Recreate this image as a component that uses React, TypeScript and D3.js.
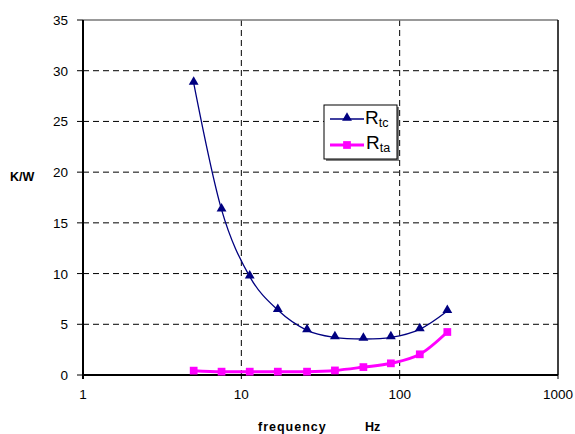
import React, { useEffect, useRef } from 'react';
import * as d3 from 'd3';

const freq = [5, 7.5, 11.3, 17, 26, 39, 59, 88, 134, 200];
const rtc = [28.8, 16.3, 9.7, 6.4, 4.4, 3.7, 3.55, 3.7, 4.5, 6.3];
const rta = [0.43, 0.33, 0.33, 0.33, 0.33, 0.45, 0.78, 1.15, 2.04, 4.24];
const xTicks = [1, 10, 100, 1000];
const yTicks = [0, 5, 10, 15, 20, 25, 30, 35];

const App: React.FC = () => {
  const svgRef = useRef<SVGSVGElement>(null);

  useEffect(() => {
    if (!svgRef.current) return;
    const width = 575;
    const height = 434;
    const left = 83, right = 558, top = 20, bottom = 375;
    const font = 'Arial, "Liberation Sans", sans-serif';

    const svg = d3.select(svgRef.current).attr('width', width).attr('height', height);
    svg.selectAll('*').remove();

    const x = d3.scaleLog().domain([1, 1000]).range([left, right]);
    const y = d3.scaleLinear().domain([0, 35]).range([bottom, top]);

    // grid
    svg.append('g').selectAll('line')
      .data(yTicks.filter(t => t > 0 && t < 35))
      .enter().append('line')
      .attr('x1', left).attr('x2', right)
      .attr('y1', d => y(d)).attr('y2', d => y(d))
      .attr('stroke', '#000').attr('stroke-width', 1)
      .attr('stroke-dasharray', '6,4');
    svg.append('g').selectAll('line')
      .data([10, 100])
      .enter().append('line')
      .attr('x1', d => x(d)).attr('x2', d => x(d))
      .attr('y1', top).attr('y2', bottom)
      .attr('stroke', '#000').attr('stroke-width', 1)
      .attr('stroke-dasharray', '6,4');

    // border
    svg.append('line').attr('x1', left).attr('x2', right).attr('y1', top).attr('y2', top)
      .attr('stroke', '#777').attr('stroke-width', 1.5);
    svg.append('line').attr('x1', right).attr('x2', right).attr('y1', top).attr('y2', bottom)
      .attr('stroke', '#000').attr('stroke-width', 1.5);

    // y axis
    const yAxis = svg.append('g');
    yAxis.append('line').attr('x1', left).attr('x2', left).attr('y1', top).attr('y2', bottom + 4)
      .attr('stroke', '#000').attr('stroke-width', 2);
    yAxis.selectAll('line.tick').data(yTicks).enter().append('line')
      .attr('class', 'tick')
      .attr('x1', left - 6).attr('x2', left)
      .attr('y1', d => y(d)).attr('y2', d => y(d))
      .attr('stroke', '#000').attr('stroke-width', 1);
    yAxis.selectAll('text').data(yTicks).enter().append('text')
      .attr('x', left - 15).attr('y', d => y(d) + 5)
      .attr('text-anchor', 'end')
      .attr('font-family', font).attr('font-size', 13.5)
      .text(d => d);

    // x axis
    const xAxis = svg.append('g');
    xAxis.append('line').attr('x1', left).attr('x2', right).attr('y1', bottom).attr('y2', bottom)
      .attr('stroke', '#000').attr('stroke-width', 2);
    xAxis.selectAll('line.tick').data(xTicks).enter().append('line')
      .attr('class', 'tick')
      .attr('x1', d => x(d)).attr('x2', d => x(d))
      .attr('y1', bottom).attr('y2', bottom + 4)
      .attr('stroke', '#000').attr('stroke-width', 1);
    xAxis.selectAll('text').data(xTicks).enter().append('text')
      .attr('x', d => x(d)).attr('y', bottom + 24)
      .attr('text-anchor', 'middle')
      .attr('font-family', font).attr('font-size', 13.5)
      .text(d => d);

    // axis titles
    svg.append('text').attr('x', 10).attr('y', 181)
      .attr('font-family', font).attr('font-size', 12.5).attr('font-weight', 'bold')
      .text('K/W');
    svg.append('text').attr('x', 258).attr('y', 431)
      .attr('font-family', font).attr('font-size', 12.5).attr('font-weight', 'bold')
      .attr('letter-spacing', 1)
      .text('frequency');
    svg.append('text').attr('x', 365).attr('y', 431)
      .attr('font-family', font).attr('font-size', 12.5).attr('font-weight', 'bold')
      .text('Hz');

    const line = d3.line<[number, number]>()
      .x(d => x(d[0])).y(d => y(d[1]))
      .curve(d3.curveCatmullRom.alpha(0));

    const tri = d3.symbol().type(d3.symbolTriangle).size(42);
    const sq = d3.symbol().type(d3.symbolSquare).size(60);

    // Rta
    const ta: [number, number][] = freq.map((f, i) => [f, rta[i]]);
    svg.append('path').attr('d', line(ta))
      .attr('fill', 'none').attr('stroke', '#ff00ff').attr('stroke-width', 3);
    svg.append('g').selectAll('path').data(ta).enter().append('path')
      .attr('d', sq)
      .attr('transform', d => `translate(${x(d[0])},${y(d[1])})`)
      .attr('fill', '#ff00ff');

    // Rtc
    const tc: [number, number][] = freq.map((f, i) => [f, rtc[i]]);
    svg.append('path').attr('d', line(tc))
      .attr('fill', 'none').attr('stroke', '#000080').attr('stroke-width', 1.3);
    svg.append('g').selectAll('path').data(tc).enter().append('path')
      .attr('d', tri)
      .attr('transform', d => `translate(${x(d[0])},${y(d[1]) - 1})`)
      .attr('fill', '#000080');

    // legend
    const lg = svg.append('g').attr('transform', 'translate(324,105)');
    lg.append('rect').attr('x', 2).attr('y', 2).attr('width', 73).attr('height', 54).attr('fill', '#808080');
    lg.append('rect').attr('x', 0).attr('y', 0).attr('width', 73).attr('height', 54)
      .attr('fill', '#fff').attr('stroke', '#000').attr('stroke-width', 1);
    lg.append('line').attr('x1', 6).attr('x2', 40).attr('y1', 14).attr('y2', 14)
      .attr('stroke', '#000080').attr('stroke-width', 1.3);
    lg.append('path').attr('d', tri).attr('transform', 'translate(23,13)').attr('fill', '#000080');
    lg.append('line').attr('x1', 6).attr('x2', 40).attr('y1', 40).attr('y2', 40)
      .attr('stroke', '#ff00ff').attr('stroke-width', 3);
    lg.append('path').attr('d', sq).attr('transform', 'translate(23,40)').attr('fill', '#ff00ff');

    const t1 = lg.append('text').attr('x', 41).attr('y', 19)
      .attr('font-family', font).attr('font-size', 19);
    t1.append('tspan').text('R');
    t1.append('tspan').attr('font-size', 12.5).attr('dy', 3).text('tc');
    const t2 = lg.append('text').attr('x', 42).attr('y', 44)
      .attr('font-family', font).attr('font-size', 19);
    t2.append('tspan').text('R');
    t2.append('tspan').attr('font-size', 12.5).attr('dy', 3).text('ta');
  }, []);

  return (
    <div style={{ position: 'absolute', left: 0, top: 0, background: '#fff' }}>
      <svg ref={svgRef} style={{ display: 'block' }}></svg>
    </div>
  );
};

export default App;
